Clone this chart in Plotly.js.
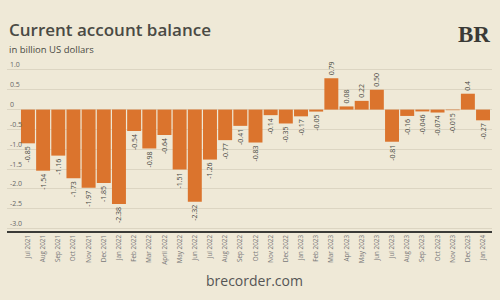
<!DOCTYPE html>
<html><head><meta charset="utf-8">
<script src="https://cdn.plot.ly/plotly-3.0.1.min.js"></script>
<style>html,body{margin:0;padding:0;background:#efe9d7;}#c{width:500px;height:300px;}</style>
</head><body><div id="c"></div>
<script>
const months = ["Jul 2021","Aug 2021","Sep 2021","Oct 2021","Nov 2021","Dec 2021","Jan 2022","Feb 2022","Mar 2022","April 2022","May 2022","Jun 2022","Jul 2022","Aug 2022","Sep 2022","Oct 2022","Nov 2022","Dec 2022","Jan 2023","Feb 2023","Mar 2023","Apr 2023","May 2023","Jun 2023","Jul 2023","Aug 2023","Sep 2023","Oct 2023","Nov 2023","Dec 2023","Jan 2024"];
const balance = [-0.85,-1.54,-1.16,-1.73,-1.97,-1.85,-2.38,-0.54,-0.98,-0.64,-1.51,-2.32,-1.26,-0.77,-0.41,-0.83,-0.14,-0.35,-0.17,-0.05,0.79,0.08,0.22,0.50,-0.81,-0.16,-0.046,-0.074,-0.015,0.4,-0.27];
const labels = ["-0.85","-1.54","-1.16","-1.73","-1.97","-1.85","-2.38","-0.54","-0.98","-0.64","-1.51","-2.32","-1.26","-0.77","-0.41","-0.83","-0.14","-0.35","-0.17","-0.05","0.79","0.08","0.22","0.50","-0.81","-0.16","-0.046","-0.074","-0.015","0.4","-0.27"];
const yTicks = [1.0,0.5,0,-0.5,-1.0,-1.5,-2.0,-2.5,-3.0];
const yTickText = ["1.0","0.5","0","-0.5","-1.0","-1.5","-2.0","-2.5","-3.0"];

const trace = {
  type: "bar", x: months, y: balance, text: labels,
  textposition: "outside", textangle: -90, constraintext: "none", cliponaxis: false,
  textfont: {family: "Open Sans", size: 7, color: "#4a4a44"},
  marker: {color: "#db742d"}, hoverinfo: "none"
};
const layout = {
  width: 500, height: 300,
  paper_bgcolor: "#efe9d7", plot_bgcolor: "#efe9d7",
  margin: {l: 7, r: 8, t: 60, b: 69},
  bargap: 0.08, showlegend: false,
  xaxis: {type: "category", range: [-1.38, 30.59], showgrid: false, zeroline: false,
    showline: true, linecolor: "#3b3b37", linewidth: 1.5, ticks: "",
    tickangle: -90, tickfont: {family: "Open Sans", size: 6.3, color: "#777"}, fixedrange: true},
  yaxis: {range: [-3.06, 1.25], tickvals: yTicks, ticktext: yTickText,
    ticklabelposition: "inside top", showgrid: true, gridcolor: "#dcd5c2", gridwidth: 1,
    zeroline: false, showline: false, ticks: "",
    tickfont: {family: "Open Sans", size: 7, color: "#666"}, fixedrange: true},
  annotations: [
    {text: "Current account balance", xref: "paper", yref: "paper", x: 0, y: 1, xanchor: "left", yanchor: "bottom",
     xshift: 0, yshift: 17, showarrow: false, font: {family: "Open Sans", size: 17, weight: 600, color: "#4a4a44"}},
    {text: "in billion US dollars", xref: "paper", yref: "paper", x: 0, y: 1, xanchor: "left", yanchor: "bottom",
     yshift: 2, showarrow: false, font: {family: "Open Sans", size: 9.5, color: "#4a4a44"}},
    {text: "<b>BR</b>", xref: "paper", yref: "paper", x: 1, y: 1, xanchor: "right", yanchor: "bottom",
     yshift: 11, showarrow: false, font: {family: "Liberation Serif", size: 23, color: "#3a3a36"}},
    {text: "brecorder.com", xref: "paper", yref: "paper", x: 0.51, y: 0, xanchor: "center", yanchor: "top",
     yshift: -38, showarrow: false, font: {family: "Open Sans", size: 14, color: "#555"}}
  ]
};
Plotly.newPlot("c", [trace], layout, {displayModeBar: false, staticPlot: true});
</script></body></html>
